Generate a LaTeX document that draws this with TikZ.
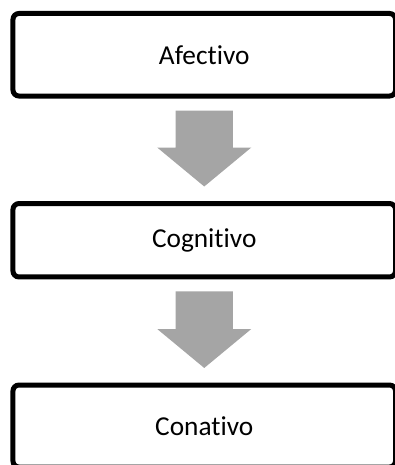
\documentclass[tikz,border=0pt]{standalone}
\usepackage{fontspec}
\setmainfont{Carlito}[Ligatures={NoCommon}]
\usetikzlibrary{calc}
\definecolor{arrowgray}{HTML}{A5A5A5}
\begin{document}
\begin{tikzpicture}[x=0.75pt,y=-0.75pt,
  stage/.style={draw=black, line width=3.75pt, rounded corners=4.5pt, fill=white,
    minimum width=286.9pt, inner sep=0pt, text=black,
    font=\fontsize{20.5}{24}\selectfont},
  blockarrow/.style={fill=arrowgray, draw=none}]
\useasboundingbox (0,0) rectangle (395,465);
\clip (0,0) rectangle (395,465);

% the three stages
\node[stage, minimum height=61.9pt] (afectivo)  at (204.25,54.75) {Afectivo};
\node[stage, minimum height=55.1pt] (cognitivo) at (204.25,240.25) {Cognitivo};
\node[stage, minimum height=61.5pt] (conativo)  at (204.25,426)   {Conativo};

% broad downward arrows between consecutive stages
\path[blockarrow] let \p1=(afectivo.south), \p2=(cognitivo.north) in
  (\x1-21.4pt,\y1-9pt) -- (\x1+21.4pt,\y1-9pt) -- (\x1+21.4pt,\y2+40.1pt)
  -- (\x1+35.25pt,\y2+40.1pt) -- (\x1,\y2+10.9pt) -- (\x1-35.25pt,\y2+40.1pt)
  -- (\x1-21.4pt,\y2+40.1pt) -- cycle;
\path[blockarrow] let \p1=(cognitivo.south), \p2=(conativo.north) in
  (\x1-21.4pt,\y1-9pt) -- (\x1+21.4pt,\y1-9pt) -- (\x1+21.4pt,\y2+40.1pt)
  -- (\x1+35.25pt,\y2+40.1pt) -- (\x1,\y2+10.9pt) -- (\x1-35.25pt,\y2+40.1pt)
  -- (\x1-21.4pt,\y2+40.1pt) -- cycle;
\end{tikzpicture}
\end{document}
